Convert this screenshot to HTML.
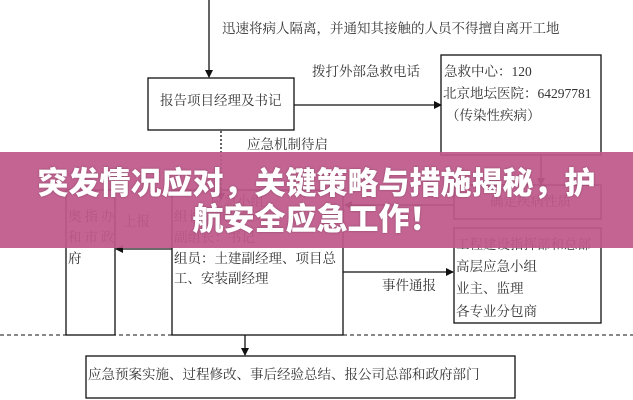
<!DOCTYPE html>
<html><head><meta charset="utf-8"><style>
body{margin:0;width:633px;height:400px;overflow:hidden;background:#fff;position:relative;font-family:"Liberation Serif","Noto Serif CJK SC",serif;color:#333}
svg{position:absolute;left:0;top:0}
.t{position:absolute;font-size:13.5px;white-space:nowrap;line-height:1}
.banner{position:absolute;left:0;top:152px;width:633px;height:96px;background:rgba(190,88,138,0.93);}
.bt{position:absolute;left:0;width:633px;text-align:center;color:#fff;font-family:"Noto Sans CJK SC",sans-serif;font-weight:900;font-size:31px;line-height:36px;top:163px;text-shadow:0 0 2px rgba(0,0,0,.3)}
</style></head><body>
<svg width="633" height="400">
<defs><marker id="a" markerWidth="8" markerHeight="8" refX="7" refY="4" orient="auto" markerUnits="userSpaceOnUse"><path d="M0,0 L8,4 L0,8z" fill="#111"/></marker></defs>
<g stroke="#111" stroke-width="1.3" fill="none">
<line x1="209" y1="0" x2="209" y2="77" marker-end="url(#a)"/>
<rect x="148" y="78" width="146" height="52"/>
<line x1="294" y1="105" x2="441" y2="105" marker-end="url(#a)"/>
<rect x="441" y="55" width="160" height="100"/>
<line x1="221" y1="131" x2="221" y2="200" stroke-dasharray="2,2" marker-end="url(#a)"/>
<line x1="541" y1="155" x2="541" y2="185" marker-end="url(#a)"/>
<rect x="454" y="185" width="147" height="34"/>
<line x1="454" y1="205" x2="345" y2="205" marker-end="url(#a)"/>
<rect x="66" y="190" width="49" height="145"/>
<rect x="172" y="190" width="171" height="145"/>
<line x1="172" y1="249" x2="116" y2="249" marker-end="url(#a)"/>
<line x1="343" y1="272" x2="453" y2="272" marker-end="url(#a)"/>
<rect x="454" y="228" width="147" height="95"/>
<line x1="0" y1="335" x2="633" y2="335" stroke-dasharray="4,3" stroke-width="1"/>
<line x1="245" y1="335" x2="245" y2="355" marker-end="url(#a)"/>
<rect x="86" y="356" width="429" height="42"/>
</g></svg>
<div class="t" style="left:222px;top:22px">迅速将病人隔离，并通知其接触的人员不得擅自离开工地</div>
<div class="t" style="left:160px;top:94px">报告项目经理及书记</div>
<div class="t" style="left:312px;top:65px">拨打外部急救电话</div>
<div class="t" style="left:444px;top:65px">急救中心：120</div>
<div class="t" style="left:443px;top:87px">北京地坛医院：64297781</div>
<div class="t" style="left:446px;top:109px">（传染性疾病）</div>
<div class="t" style="left:247px;top:138px">应急机制待启</div>
<div class="t" style="left:490px;top:195px">确定疾病性质</div>
<div class="t" style="left:68px;top:210px;letter-spacing:3px">奥指办</div>
<div class="t" style="left:68px;top:231px;letter-spacing:3px">和市政</div>
<div class="t" style="left:68px;top:252px">府</div>
<div class="t" style="left:123px;top:215px">上报</div>
<div class="t" style="left:210px;top:195px">应急小组</div>
<div class="t" style="left:174px;top:210px">组长：项目经理</div>
<div class="t" style="left:174px;top:231px">副组长：书记</div>
<div class="t" style="left:174px;top:252px">组员：土建副经理、项目总</div>
<div class="t" style="left:174px;top:272px">工、安装副经理</div>
<div class="t" style="left:456px;top:238px">工程建设指挥部和总部</div>
<div class="t" style="left:456px;top:260px">高层应急小组</div>
<div class="t" style="left:456px;top:282px">业主、监理</div>
<div class="t" style="left:456px;top:305px">各专业分包商</div>
<div class="t" style="left:382px;top:279px">事件通报</div>
<div class="t" style="left:88px;top:368px">应急预案实施、过程修改、事后经验总结、报公司总部和政府部门</div>
<div class="banner"></div>
<div class="bt">突发情况应对，关键策略与措施揭秘，护<br>航安全应急工作！</div>
</body></html>
